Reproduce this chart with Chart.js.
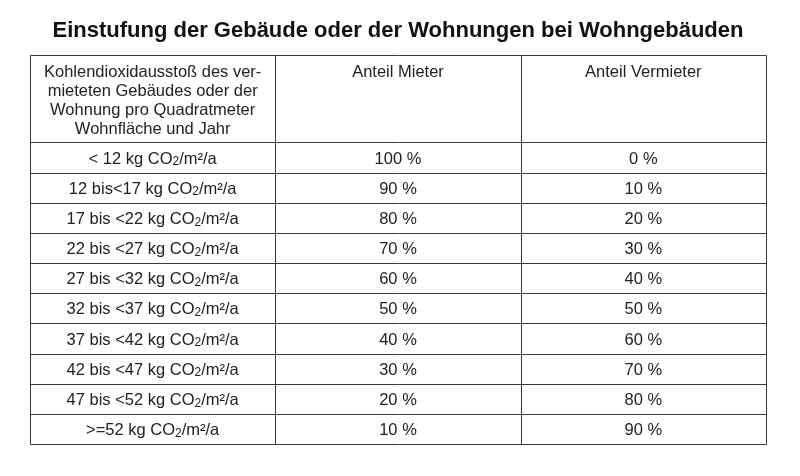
<!DOCTYPE html>
<html><head><meta charset="utf-8">
<script src="https://cdn.jsdelivr.net/npm/chart.js@4"></script>
<style>html,body{margin:0;padding:0;background:#fff}#w{width:800px;height:476px}</style>
</head><body><div id="w"><canvas id="c"></canvas></div>
<script>
const title = "Einstufung der Gebäude oder der Wohnungen bei Wohngebäuden";
const headerLines = ["Kohlendioxidausstoß des ver-","mieteten Gebäudes oder der","Wohnung pro Quadratmeter","Wohnfläche und Jahr"];
const columnHeaders = ["Anteil Mieter","Anteil Vermieter"];
const categories = ["< 12 kg CO2/m²/a","12 bis<17 kg CO2/m²/a","17 bis <22 kg CO2/m²/a","22 bis <27 kg CO2/m²/a","27 bis <32 kg CO2/m²/a","32 bis <37 kg CO2/m²/a","37 bis <42 kg CO2/m²/a","42 bis <47 kg CO2/m²/a","47 bis <52 kg CO2/m²/a",">=52 kg CO2/m²/a"];
const mieter = [100,90,80,70,60,50,40,30,20,10];
const vermieter = [0,10,20,30,40,50,60,70,80,90];

const HEADER = 2.9; // header row height in row units
const N = categories.length;
const FONT = "16.5px 'Liberation Sans', Arial, sans-serif";
const SMALL = "12px 'Liberation Sans', Arial, sans-serif";

function drawRich(ctx, s, cx, cy){
  const parts = s.split("CO2");
  const segs = [];
  parts.forEach((p,i)=>{ if(i>0){segs.push(["CO",FONT,0]); segs.push(["2",SMALL,3]);} segs.push([p,FONT,0]); });
  let w=0; segs.forEach(g=>{ctx.font=g[1]; w+=ctx.measureText(g[0]).width;});
  let x=cx-w/2; ctx.textAlign="left"; ctx.textBaseline="middle";
  segs.forEach(g=>{ctx.font=g[1]; ctx.fillText(g[0],x,cy+g[2]); x+=ctx.measureText(g[0]).width;});
}

const tablePlugin = {
  id:'table',
  afterDraw(chart){
    const ctx=chart.ctx, xs=chart.scales.x, ys=chart.scales.y;
    ctx.save();
    ctx.fillStyle="#111"; ctx.font="bold 22px 'Liberation Sans', Arial, sans-serif";
    ctx.textAlign="center"; ctx.textBaseline="middle";
    ctx.fillText(title, 398, 31);
    ctx.strokeStyle="#3a3a3a"; ctx.lineWidth=1;
    const bounds=[0,HEADER]; for(let i=1;i<=N;i++) bounds.push(HEADER+i);
    const X=v=>Math.round(xs.getPixelForValue(v))+0.5, Y=v=>Math.round(ys.getPixelForValue(v))+0.5;
    bounds.forEach(b=>{ctx.beginPath();ctx.moveTo(X(0),Y(b));ctx.lineTo(X(3),Y(b));ctx.stroke();});
    [0,1,2,3].forEach(c=>{ctx.beginPath();ctx.moveTo(X(c),Y(0));ctx.lineTo(X(c),Y(HEADER+N));ctx.stroke();});
    ctx.fillStyle="#222"; ctx.font=FONT; ctx.textAlign="center";
    const top=ys.getPixelForValue(0);
    headerLines.forEach((l,i)=>ctx.fillText(l, xs.getPixelForValue(0.5), top+17+i*19));
    columnHeaders.forEach((l,i)=>ctx.fillText(l, xs.getPixelForValue(1.5+i), top+17));
    categories.forEach((c,i)=>{
      const cy=ys.getPixelForValue(HEADER+i+0.5)+1.5;
      ctx.fillStyle="#222";
      drawRich(ctx,c,xs.getPixelForValue(0.5),cy);
      ctx.textAlign="center"; ctx.font=FONT;
      ctx.fillText(mieter[i]+" %", xs.getPixelForValue(1.5), cy);
      ctx.fillText(vermieter[i]+" %", xs.getPixelForValue(2.5), cy);
    });
    ctx.restore();
  }
};

new Chart(document.getElementById('c'),{
  type:'scatter',
  data:{datasets:[{data:[],pointRadius:0}]},
  options:{
    responsive:true, maintainAspectRatio:false, animation:false,
    layout:{padding:{left:30,right:34,top:55,bottom:32}},
    plugins:{legend:{display:false},tooltip:{enabled:false}},
    scales:{
      x:{type:'linear',min:0,max:3,display:false},
      y:{type:'linear',min:0,max:HEADER+N,reverse:true,display:false}
    }
  },
  plugins:[tablePlugin]
});
</script></body></html>
